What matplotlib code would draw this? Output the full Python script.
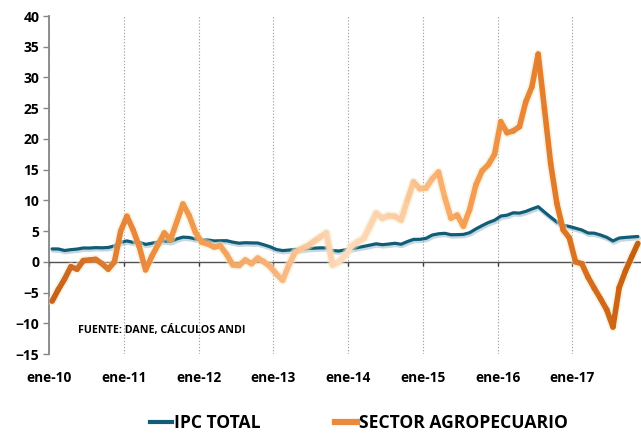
import numpy as np
import matplotlib
matplotlib.use("Agg")
from matplotlib import pyplot as plt
from matplotlib.collections import LineCollection
from matplotlib.colors import LinearSegmentedColormap
from matplotlib.lines import Line2D
import matplotlib.patheffects as pe

# monthly series, ene-10 .. nov-17 (annual % change)
ipc_total = [
    2.10, 2.09, 1.84, 1.98, 2.07, 2.25, 2.24, 2.31, 2.28, 2.33, 2.59, 3.17,
    3.40, 3.17, 3.19, 2.84, 3.02, 3.23, 3.42, 3.27, 3.73, 4.02, 3.96, 3.73,
    3.54, 3.55, 3.40, 3.43, 3.44, 3.20, 3.03, 3.11, 3.08, 3.06, 2.77, 2.44,
    2.00, 1.83, 1.91, 2.02, 2.00, 2.16, 2.22, 2.27, 2.27, 1.84, 1.76, 1.94,
    2.13, 2.32, 2.51, 2.72, 2.93, 2.79, 2.89, 3.02, 2.86, 3.29, 3.65, 3.66,
    3.82, 4.36, 4.56, 4.64, 4.41, 4.42, 4.46, 4.74, 5.35, 5.89, 6.39, 6.77,
    7.45, 7.59, 7.98, 7.93, 8.20, 8.60, 8.97, 8.10, 7.27, 6.48, 5.96, 5.75,
    5.47, 5.18, 4.69, 4.66, 4.37, 3.99, 3.40, 3.87, 3.97, 4.05, 4.12,
]
sector_agro = [
    -6.4, -4.5, -2.8, -0.8, -1.2, 0.2, 0.3, 0.4, -0.3, -1.2, 0.0, 5.0,
    7.4, 5.2, 2.4, -1.3, 0.9, 2.8, 4.7, 3.6, 6.5, 9.4, 7.5, 4.8,
    3.2, 2.9, 2.4, 2.6, 1.2, -0.5, -0.6, 0.3, -0.3, 0.6, 0.0, -0.8,
    -2.0, -3.0, -0.5, 1.6, 2.1, 2.6, 3.3, 4.0, 4.7, -0.5, 0.0, 1.0,
    2.5, 3.2, 3.8, 5.8, 7.9, 7.1, 7.5, 7.4, 6.8, 10.0, 13.0, 11.9,
    12.0, 13.5, 14.6, 10.5, 7.1, 7.6, 5.8, 8.5, 12.5, 14.8, 15.8, 17.5,
    22.8, 21.0, 21.3, 22.0, 26.0, 28.5, 33.8, 25.0, 16.0, 9.5, 5.2, 3.9,
    0.0, -0.3, -2.5, -4.3, -6.0, -7.8, -10.6, -4.2, -1.5, 0.8, 3.0,
]
year_labels = ["ene-10", "ene-11", "ene-12", "ene-13",
               "ene-14", "ene-15", "ene-16", "ene-17"]
y_ticks = [-15, -10, -5, 0, 5, 10, 15, 20, 25, 30, 35, 40]

BLUE = "#115d78"
FONT = "Open Sans"

agro_cmap = LinearSegmentedColormap.from_list("agro", [
    (0.00, "#c5611b"), (0.13, "#e8853a"), (0.25, "#f29c50"),
    (0.38, "#f8b27a"), (0.50, "#fddcbe"), (0.60, "#fccca2"),
    (0.70, "#f6a258"), (0.80, "#ea8738"), (0.90, "#da7122"),
    (1.00, "#c65e10"),
])

x = np.arange(len(ipc_total))
agro = np.array(sector_agro)

fig = plt.figure(figsize=(6.41, 4.33), dpi=100)
ax = fig.add_axes([49 / 641, 79 / 433, 1 - 49 / 641, (354 - 16) / 433])

# IPC line with a soft shadow
ax.plot(x, ipc_total, color=BLUE, lw=2.3, solid_capstyle="round", zorder=3,
        path_effects=[pe.SimpleLineShadow(offset=(0.6, -1.2), shadow_color="#7fa8ba",
                                          alpha=0.45, linewidth=3.2),
                      pe.Normal()])

# agro line: gradient along x plus a pale glow
pts = np.column_stack([x, agro]).reshape(-1, 1, 2)
segs = np.concatenate([pts[:-1], pts[1:]], axis=1)
ax.plot(x, agro, color="#f4e8bf", lw=6.5, alpha=0.5, solid_capstyle="round",
        solid_joinstyle="round", zorder=4)
lc = LineCollection(segs, cmap=agro_cmap, linewidths=4.0, capstyle="round",
                    joinstyle="round", zorder=5)
lc.set_array((x[:-1] + 0.5) / (len(x) - 1))
lc.set_clim(0, 1)
ax.add_collection(lc)

ax.set_xlim(-0.5, len(x) - 0.5)
ax.set_ylim(-15, 40)

# axes styling
for side in ("top", "right"):
    ax.spines[side].set_visible(False)
ax.spines["left"].set_color("#868686")
ax.spines["left"].set_linewidth(1.3)
ax.spines["bottom"].set_position(("data", 0))
ax.spines["bottom"].set_color("#505050")
ax.spines["bottom"].set_linewidth(1.0)

year_pos = np.arange(len(year_labels)) * 12 - 0.5
ax.set_xticks(year_pos)
ax.tick_params(axis="x", direction="out", length=3, width=1, color="#404040",
               labelbottom=False)
ax.grid(axis="x", linestyle=(0, (1.2, 1.6)), color="#a6a6a6", lw=0.8)

ax.set_yticks(y_ticks)
ax.tick_params(axis="y", direction="out", length=4, width=1, color="#868686", pad=3)
for lab in ax.get_yticklabels():
    lab.set_fontfamily(FONT)
    lab.set_fontweight("bold")
    lab.set_fontsize(10)

sec = ax.secondary_xaxis("bottom")
sec.spines["bottom"].set_visible(False)
sec.set_xticks(year_pos)
sec.set_xticklabels(year_labels, fontfamily=FONT, fontweight="bold", fontsize=9.8)
sec.tick_params(axis="x", length=0, pad=12)

ax.text(4.2, -11.1, "FUENTE: DANE, CÁLCULOS ANDI", fontfamily=FONT,
        fontweight="bold", fontsize=7.7, ha="left", va="center", zorder=6)

handles = [Line2D([], [], color=BLUE, lw=3),
           Line2D([], [], color="#ea8a3e", lw=4.5)]
fig.legend(handles, ["IPC TOTAL", "SECTOR AGROPECUARIO"], loc="center left",
           bbox_to_anchor=(150 / 641, 1 - 423 / 433), ncol=2, frameon=False,
           prop={"family": FONT, "weight": "bold", "size": 12.6},
           handlelength=1.25, handletextpad=0.1, columnspacing=4.3, borderpad=0,
           borderaxespad=0)

fig.savefig("out.png", dpi=100)
